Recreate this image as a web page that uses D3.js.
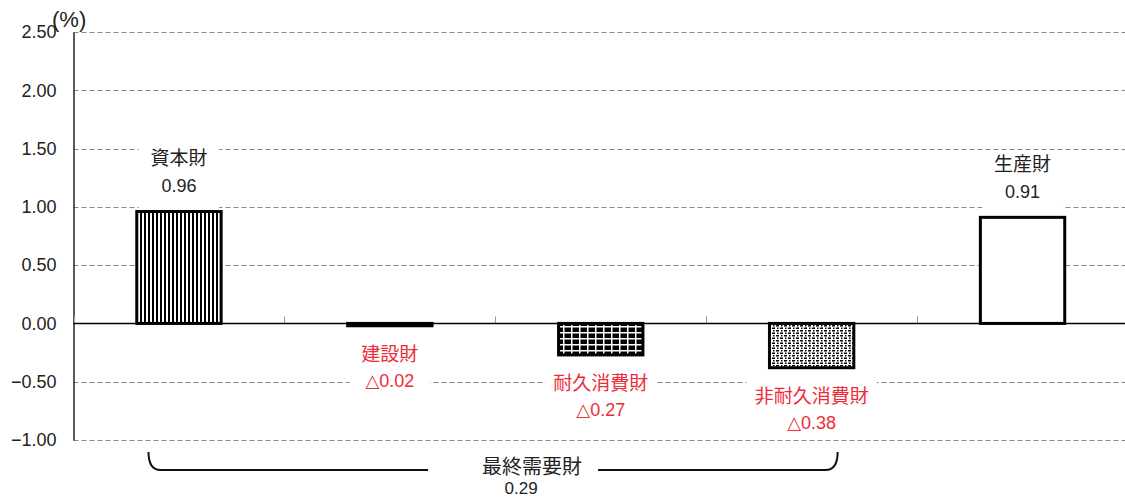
<!DOCTYPE html>
<html><head><meta charset="utf-8">
<script src="https://cdn.jsdelivr.net/npm/d3@7"></script>
<style>
body{margin:0;background:#fff;}
svg{display:block;font-family:"Liberation Sans","Noto Sans CJK JP",sans-serif;}
</style></head>
<body>
<svg id="chart" width="1125" height="499"></svg>
<script>
// Contribution by goods category (percentage points)
const categories = ["資本財", "建設財", "耐久消費財", "非耐久消費財", "生産財"];
const values = [0.96, -0.02, -0.27, -0.38, 0.91];
const valueLabels = ["0.96", "△0.02", "△0.27", "△0.38", "0.91"];
const patterns = ["vstripe", "solid", "grid", "dots", "none"];
const yTicks = [2.5, 2.0, 1.5, 1.0, 0.5, 0.0, -0.5, -1.0];
const groupName = "最終需要財";
const groupValue = "0.29";
const groupMembers = ["資本財", "非耐久消費財"];

const svg = d3.select("#chart");
const m = {left: 73.5, right: 1128, top: 32, bottom: 440};

const x = d3.scaleBand().domain(categories).range([m.left, m.right]).paddingInner(0).paddingOuter(0);
const y = d3.scaleLinear().domain([-1, 2.5]).range([m.bottom, m.top]);

// fill patterns
const defs = svg.append("defs");
const pv = defs.append("pattern").attr("id","vstripe").attr("patternUnits","userSpaceOnUse").attr("width",4).attr("height",4);
pv.append("rect").attr("width",4).attr("height",4).attr("fill","#fff");
pv.append("rect").attr("width",2).attr("height",4).attr("fill","#000");

const pg = defs.append("pattern").attr("id","grid").attr("patternUnits","userSpaceOnUse").attr("width",8).attr("height",6);
pg.append("rect").attr("width",8).attr("height",6).attr("fill","#000");
pg.append("rect").attr("x",0).attr("y",2).attr("width",8).attr("height",1.5).attr("fill","#fff");
pg.append("rect").attr("x",3).attr("y",0).attr("width",1.5).attr("height",6).attr("fill","#fff");

const pd = defs.append("pattern").attr("id","dots").attr("patternUnits","userSpaceOnUse").attr("width",8).attr("height",5);
pd.append("rect").attr("width",8).attr("height",5).attr("fill","#fff");
pd.append("rect").attr("x",0).attr("y",0).attr("width",3).attr("height",1.5).attr("fill","#000");
pd.append("rect").attr("x",5).attr("y",0).attr("width",1.5).attr("height",1.5).attr("fill","#000");
pd.append("rect").attr("x",4).attr("y",2.5).attr("width",3).attr("height",1.5).attr("fill","#000");
pd.append("rect").attr("x",1).attr("y",2.5).attr("width",1.5).attr("height",1.5).attr("fill","#000");

// horizontal gridlines
svg.append("g").selectAll("line").data(yTicks.filter(d => d !== 0)).join("line")
  .attr("x1", m.left).attr("x2", m.right)
  .attr("y1", d => Math.round(y(d)) + 0.5).attr("y2", d => Math.round(y(d)) + 0.5)
  .attr("stroke", "#888").attr("stroke-width", 1).attr("stroke-dasharray", "5,3");

// y axis
const fmt = d => (d < 0 ? "\u2212" : "") + d3.format(".2f")(Math.abs(d));
const yAxis = d3.axisLeft(y).tickValues(yTicks).tickFormat(fmt).tickSize(0).tickPadding(17);
const ga = svg.append("g").attr("transform", `translate(${m.left},0)`).call(yAxis);
ga.select(".domain").attr("stroke", "#000").attr("stroke-width", 1.3);
ga.selectAll("text").attr("font-size", 18).attr("font-family", "Liberation Sans").attr("fill", "#222");
svg.append("text").attr("x", 52).attr("y", 27).attr("font-size", 22).attr("fill", "#222")
  .attr("font-family", "Liberation Sans Narrow, Liberation Sans").text("(%)");

// category separators on the zero line
const seps = categories.map(c => x(c)).concat([m.right]);
svg.append("g").selectAll("line").data(seps).join("line")
  .attr("x1", d => Math.round(d) + 0.5).attr("x2", d => Math.round(d) + 0.5)
  .attr("y1", y(0) - 7).attr("y2", y(0))
  .attr("stroke", "#999").attr("stroke-width", 1);

const bw = x.bandwidth() * 0.4;

// label backdrops and labels, drawn before the bars so the bars stay on top
const labelG = svg.append("g").attr("font-size", 18);
categories.forEach((c, i) => {
  const v = values[i];
  const cx = x(c) + x.bandwidth() / 2;
  const neg = v < 0;
  const color = neg ? "#ec2c38" : "#222";
  const yName = neg ? y(v) + 28 : y(v) - 53;
  const yVal = yName + 27;
  const g = labelG.append("g");
  const w = Math.max(c.length * 20 + 10, bw - 4);
  g.append("rect").attr("x", cx - w / 2).attr("y", yName - 14).attr("width", w)
    .attr("height", neg ? 56 : (y(v) - 3) - (yName - 14)).attr("fill", "#fff");
  g.append("text").attr("x", cx).attr("y", yName).attr("dy", "0.36em").attr("text-anchor", "middle")
    .attr("font-family", "Noto Sans CJK JP").attr("font-size", 19).attr("fill", color).text(c);
  g.append("text").attr("x", cx).attr("y", yVal).attr("dy", "0.36em").attr("text-anchor", "middle")
    .attr("font-family", "Liberation Sans, DejaVu Sans").attr("font-size", 18).attr("fill", color).text(valueLabels[i]);
});

// bars
svg.append("g").selectAll("rect").data(categories).join("rect")
  .attr("x", (c) => x(c) + (x.bandwidth() - bw) / 2)
  .attr("y", (c, i) => y(Math.max(0, values[i])))
  .attr("width", bw)
  .attr("height", (c, i) => Math.abs(y(values[i]) - y(0)))
  .attr("fill", (c, i) => patterns[i] === "none" ? "#fff" : patterns[i] === "solid" ? "#000" : `url(#${patterns[i]})`)
  .attr("stroke", "#000").attr("stroke-width", 3);

// zero line
svg.append("line").attr("x1", m.left).attr("x2", m.right).attr("y1", Math.round(y(0)) + 0.5).attr("y2", Math.round(y(0)) + 0.5)
  .attr("stroke", "#000").attr("stroke-width", 1.3);

// bracket spanning the final demand goods
const bx1 = x(groupMembers[0]) + 75;
const bx2 = x(groupMembers[1]) + x.bandwidth() / 2 + 26;
const by = y(-1) + 12, bb = by + 18, r = 12;
const mid = (bx1 + bx2) / 2;
const br = svg.append("g").attr("fill", "none").attr("stroke", "#111").attr("stroke-width", 2);
br.append("path").attr("d", `M${bx1},${by} Q${bx1},${bb} ${bx1 + r},${bb} L${mid - 65},${bb}`);
br.append("path").attr("d", `M${bx2},${by} Q${bx2},${bb} ${bx2 - r},${bb} L${mid + 105},${bb}`);
svg.append("text").attr("x", mid + 39).attr("y", bb - 3).attr("dy", "0.36em").attr("text-anchor", "middle").attr("font-size", 20)
  .attr("font-family", "Noto Sans CJK JP").attr("fill", "#222").text(groupName);
svg.append("text").attr("x", mid + 28).attr("y", 494).attr("text-anchor", "middle").attr("font-size", 17)
  .attr("font-family", "Liberation Sans Narrow, Liberation Sans").attr("fill", "#222").text(groupValue);
</script>
</body></html>
